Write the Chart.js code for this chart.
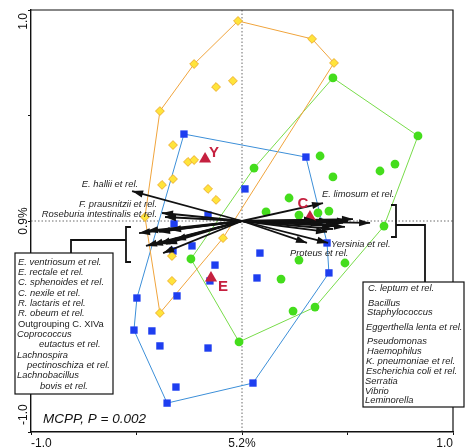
<!DOCTYPE html>
<html><head><meta charset="utf-8">
<script src="https://cdn.jsdelivr.net/npm/chart.js@4/dist/chart.umd.min.js"></script>
<style>html,body{margin:0;padding:0;background:#fff}#wrap{width:472px;height:448px}</style>
</head><body><div id="wrap"><canvas id="c" width="472" height="448"></canvas></div>
<script>
// ---- tick values / labels ----
const xTickValues = [-1, -0.5, 0, 0.5, 1];
const xTickLabels = ['-1.0', '', '5.2%', '', '1.0'];
const yTickValues = [-1, -0.5, 0, 0.5, 1];
const yTickLabels = ['-1.0', '', '0.9%', '', '1.0'];

// ---- sample scores (x, y) ----
const samplesYellow = [[-0.019,0.948],[0.332,0.863],[0.436,0.749],[-0.227,0.744],[-0.123,0.635],[-0.043,0.664],[-0.389,0.521],[-0.327,0.360],[-0.256,0.280],[-0.227,0.289],[-0.379,0.171],[-0.327,0.199],[-0.161,0.152],[-0.123,0.100],[-0.460,0.019],[-0.090,-0.081],[-0.332,-0.166],[-0.332,-0.284],[-0.389,-0.436]];
const hullYellow = [[-0.019,0.948],[0.332,0.863],[0.436,0.749],[-0.090,-0.081],[-0.389,-0.436],[-0.460,0.019],[-0.389,0.521],[-0.227,0.744],[-0.019,0.948]];

const samplesBlue = [[-0.275,0.412],[0.303,0.303],[0.014,0.152],[-0.161,0.028],[-0.322,-0.014],[-0.237,-0.118],[-0.327,-0.142],[-0.128,-0.209],[-0.152,-0.284],[-0.498,-0.365],[-0.308,-0.355],[-0.512,-0.517],[-0.427,-0.521],[-0.389,-0.592],[-0.161,-0.602],[-0.313,-0.787],[-0.355,-0.863],[0.085,-0.152],[0.071,-0.270],[0.412,-0.246],[0.403,-0.104],[0.052,-0.768]];
const hullBlue = [[-0.275,0.412],[0.303,0.303],[0.403,-0.104],[0.412,-0.246],[0.052,-0.768],[-0.355,-0.863],[-0.512,-0.517],[-0.498,-0.365],[-0.275,0.412]];

const samplesGreen = [[0.431,0.678],[0.834,0.403],[0.370,0.308],[0.431,0.209],[0.654,0.237],[0.725,0.270],[0.057,0.251],[0.223,0.109],[0.114,0.043],[0.270,0.028],[0.360,0.038],[0.412,0.047],[0.673,-0.024],[0.270,-0.185],[0.488,-0.199],[0.185,-0.275],[0.242,-0.427],[0.346,-0.408],[-0.014,-0.573],[-0.242,-0.180]];
const hullGreen = [[0.431,0.678],[0.834,0.403],[0.673,-0.024],[0.346,-0.408],[-0.014,-0.573],[-0.242,-0.180],[0.057,0.251],[0.431,0.678]];

// ---- group centroids ----
const centroidNames = ['Y', 'C', 'E'];
const centroids = [[-0.175,0.294],[0.322,0.019],[-0.147,-0.270]];

// ---- taxa arrows ----
const labeledArrowNames = ['E. hallii et rel.','F. prausnitzii et rel.','Roseburia intestinalis et rel.','E. limosum et rel.','Yersinia et rel.','Proteus et rel.'];
const labeledArrowTips = [[-0.521,0.142],[-0.379,0.038],[-0.365,0.019],[0.384,0.085],[0.408,-0.104],[0.308,-0.104]];

const leftGroupNames = ['E. ventriosum et rel.','E. rectale et rel.','C. sphenoides et rel.','C. nexile et rel.','R. lactaris et rel.','R. obeum et rel.','Outgrouping C. XIVa','Coprococcus eutactus et rel.','Lachnospira pectinoschiza et rel.','Lachnobacillus bovis et rel.'];
const leftGroupTips = [[-0.488,-0.057],[-0.450,-0.047],[-0.393,-0.052],[-0.341,-0.043],[-0.455,-0.118],[-0.427,-0.114],[-0.393,-0.109],[-0.360,-0.109],[-0.374,-0.152],[-0.318,-0.090]];

const rightGroupNames = ['C. leptum et rel.','Bacillus','Staphylococcus','Eggerthella lenta et rel.','Pseudomonas','Haemophilus','K. pneumoniae et rel.','Escherichia coli et rel.','Serratia','Vibrio','Leminorella'];
const rightGroupTips = [[0.526,0.009],[0.607,-0.009],[0.479,-0.009],[0.450,-0.019],[0.431,-0.038],[0.379,-0.009],[0.403,-0.052],[0.502,0.0],[0.346,0.005],[0.417,0.0],[0.488,-0.028]];

// text lines of the two legend boxes
const leftBoxLines = ['E. ventriosum et rel.','E. rectale et rel.','C. sphenoides et rel.','C. nexile et rel.','R. lactaris et rel.','R. obeum et rel.','Outgrouping C. XIVa','Coprococcus','eutactus et rel.','Lachnospira','pectinoschiza et rel.','Lachnobacillus','bovis et rel.'];
const rightBoxLines = rightGroupNames;
const statText = 'MCPP, P = 0.002';

// ---- build datasets ----
const toPts = arr => arr.map(p => ({x: p[0], y: p[1]}));
const FONT = "'Liberation Sans', Arial, sans-serif";
const RED = '#c5203f';
const datasets = [];
datasets.push({data: toPts(hullYellow), showLine: true, borderColor: '#f0a43c', borderWidth: 1, pointRadius: 0, order: 20});
datasets.push({data: toPts(hullBlue), showLine: true, borderColor: '#3c8fd8', borderWidth: 1, pointRadius: 0, order: 20});
datasets.push({data: toPts(hullGreen), showLine: true, borderColor: '#78dc4a', borderWidth: 1, pointRadius: 0, order: 20});
datasets.push({data: toPts(samplesYellow), pointStyle: 'rectRot', pointRadius: 4.4, backgroundColor: '#ffe43a', borderColor: '#eeb030', borderWidth: 1, order: 10});
datasets.push({data: toPts(samplesBlue), pointStyle: 'rect', pointRadius: 5.2, backgroundColor: '#1e3ef0', borderColor: '#1e3ef0', borderWidth: 0, order: 10});
datasets.push({data: toPts(samplesGreen), pointStyle: 'circle', pointRadius: 4.4, backgroundColor: '#44dd1c', borderColor: '#44dd1c', borderWidth: 0, order: 10});
const allTips = [...labeledArrowTips, ...leftGroupTips, ...rightGroupTips];
allTips.forEach(t => datasets.push({data: [{x:0,y:0},{x:t[0],y:t[1]}], showLine: true, borderColor: '#111', borderWidth: 1.8, pointRadius: 0, order: 5, isArrow: true}));
datasets.push({data: toPts(centroids), pointStyle: 'triangle', pointRadius: 7, backgroundColor: RED, borderColor: RED, borderWidth: 0, order: 1});

const overlay = {
  id: 'overlay',
  beforeDatasetsDraw(chart) {
    const {ctx, chartArea: a, scales: {x, y}} = chart;
    const x0 = x.getPixelForValue(0), y0 = y.getPixelForValue(0);
    ctx.save();
    ctx.strokeStyle = '#444'; ctx.lineWidth = 0.8; ctx.setLineDash([1.5, 2]);
    ctx.beginPath(); ctx.moveTo(x0, a.top); ctx.lineTo(x0, a.bottom);
    ctx.moveTo(a.left, y0); ctx.lineTo(a.right, y0); ctx.stroke();
    ctx.restore();
  },
  afterDatasetsDraw(chart) {
    const {ctx, scales: {x, y}} = chart;
    const ox = x.getPixelForValue(0), oy = y.getPixelForValue(0);
    ctx.save();
    ctx.fillStyle = '#111';
    allTips.forEach(t => {
      const tx = x.getPixelForValue(t[0]), ty = y.getPixelForValue(t[1]);
      const ang = Math.atan2(ty - oy, tx - ox);
      const L = 11, W = 3.6;
      const bx = tx - L * Math.cos(ang), by = ty - L * Math.sin(ang);
      ctx.beginPath();
      ctx.moveTo(tx, ty);
      ctx.lineTo(bx + W * Math.sin(ang), by - W * Math.cos(ang));
      ctx.lineTo(bx - W * Math.sin(ang), by + W * Math.cos(ang));
      ctx.closePath(); ctx.fill();
    });
    // arrow labels
    const offs = [[6,-7,'right'],[-5,-9,'right'],[-8,-3,'right'],[-1,-9,'left'],[3,1,'left'],[-17,10,'left']];
    ctx.font = 'italic 9.4px ' + FONT; ctx.fillStyle = '#222'; ctx.textBaseline = 'middle';
    labeledArrowNames.forEach((n, i) => {
      const t = labeledArrowTips[i];
      ctx.textAlign = offs[i][2];
      ctx.fillText(n, x.getPixelForValue(t[0]) + offs[i][0], y.getPixelForValue(t[1]) + offs[i][1]);
    });
    // centroid labels
    const coffs = [[9,-6],[-7,-13],[12,9]];
    ctx.font = 'bold 15px ' + FONT; ctx.fillStyle = RED; ctx.textAlign = 'center';
    centroidNames.forEach((n, i) => {
      ctx.fillText(n, x.getPixelForValue(centroids[i][0]) + coffs[i][0], y.getPixelForValue(centroids[i][1]) + coffs[i][1]);
    });
    ctx.restore();
  },
  afterDraw(chart) {
    const {ctx, chartArea: a, scales: {y}} = chart;
    ctx.save();
    // frame top / right
    ctx.strokeStyle = '#111'; ctx.lineWidth = 1.2;
    ctx.beginPath(); ctx.moveTo(a.left, a.top); ctx.lineTo(a.right, a.top); ctx.lineTo(a.right, a.bottom); ctx.stroke();
    // y tick labels (rotated)
    ctx.font = '12px ' + FONT; ctx.fillStyle = '#111'; ctx.textBaseline = 'middle';
    yTickValues.forEach((v, i) => {
      if (!yTickLabels[i]) return;
      let py = y.getPixelForValue(v), al = 'center';
      if (i === yTickValues.length - 1) { py += 3; al = 'right'; }
      else if (i === 0) { py -= 7; al = 'left'; }
      ctx.save(); ctx.translate(24, py); ctx.rotate(-Math.PI / 2);
      ctx.textAlign = al; ctx.fillText(yTickLabels[i], 0, 0); ctx.restore();
    });
    // brackets and connectors
    ctx.strokeStyle = '#111'; ctx.lineWidth = 1.8;
    ctx.beginPath();
    ctx.moveTo(131, 227); ctx.lineTo(126, 227); ctx.lineTo(126, 262); ctx.lineTo(131, 262);
    ctx.moveTo(126, 240); ctx.lineTo(71, 240); ctx.lineTo(71, 253);
    ctx.moveTo(391, 205); ctx.lineTo(396, 205); ctx.lineTo(396, 237); ctx.lineTo(391, 237);
    ctx.moveTo(396, 225); ctx.lineTo(425, 225); ctx.lineTo(425, 282);
    ctx.stroke();
    // boxes
    ctx.fillStyle = '#fff'; ctx.lineWidth = 1.2;
    ctx.fillRect(15, 253, 98, 141); ctx.strokeRect(15, 253, 98, 141);
    ctx.fillRect(363, 282, 101, 125); ctx.strokeRect(363, 282, 101, 125);
    ctx.fillStyle = '#222'; ctx.textAlign = 'left'; ctx.textBaseline = 'middle';
    const leftX = [18,18,18,18,18,18,18,17,39,17,27,17,40];
    leftBoxLines.forEach((s, i) => {
      ctx.font = (i === 6 ? '' : 'italic ') + '9.4px ' + FONT;
      ctx.fillText(s, leftX[i], 262 + i * 10.33);
    });
    const rightY = [288,303,312,327,341,351,361,371,381,391,400];
    const rightX = [368,368,367,366,367,367,366,366,365,365,365];
    ctx.font = 'italic 9.4px ' + FONT;
    rightBoxLines.forEach((s, i) => ctx.fillText(s, rightX[i], rightY[i]));
    // statistic
    ctx.font = 'italic 13.5px ' + FONT; ctx.fillStyle = '#111';
    ctx.fillText(statText, 43, 419);
    ctx.restore();
  }
};

new Chart(document.getElementById('c'), {
  type: 'scatter',
  data: {datasets},
  options: {
    responsive: false, animation: false,
    layout: {padding: {top: 10, right: 19, left: 0, bottom: 0}},
    plugins: {legend: {display: false}, tooltip: {enabled: false}},
    elements: {line: {tension: 0, fill: false}},
    scales: {
      x: {
        type: 'linear', min: -1, max: 1,
        afterBuildTicks: s => { s.ticks = xTickValues.map(v => ({value: v})); },
        afterFit: s => { s.height = 16; },
        ticks: {align: 'inner', padding: 1, autoSkip: false, maxRotation: 0, color: '#111', font: {family: FONT, size: 12},
          callback: (v, i) => xTickLabels[i]},
        grid: {drawOnChartArea: false, drawTicks: true, tickLength: 3, color: '#111'},
        border: {display: true, color: '#111', width: 1.4}
      },
      y: {
        type: 'linear', min: -1, max: 1,
        afterBuildTicks: s => { s.ticks = yTickValues.map(v => ({value: v})); },
        afterFit: s => { s.width = 31; },
        ticks: {display: false},
        grid: {drawOnChartArea: false, drawTicks: true, tickLength: 3, color: '#111'},
        border: {display: true, color: '#111', width: 1.4}
      }
    }
  },
  plugins: [overlay]
});
</script>
</body></html>
